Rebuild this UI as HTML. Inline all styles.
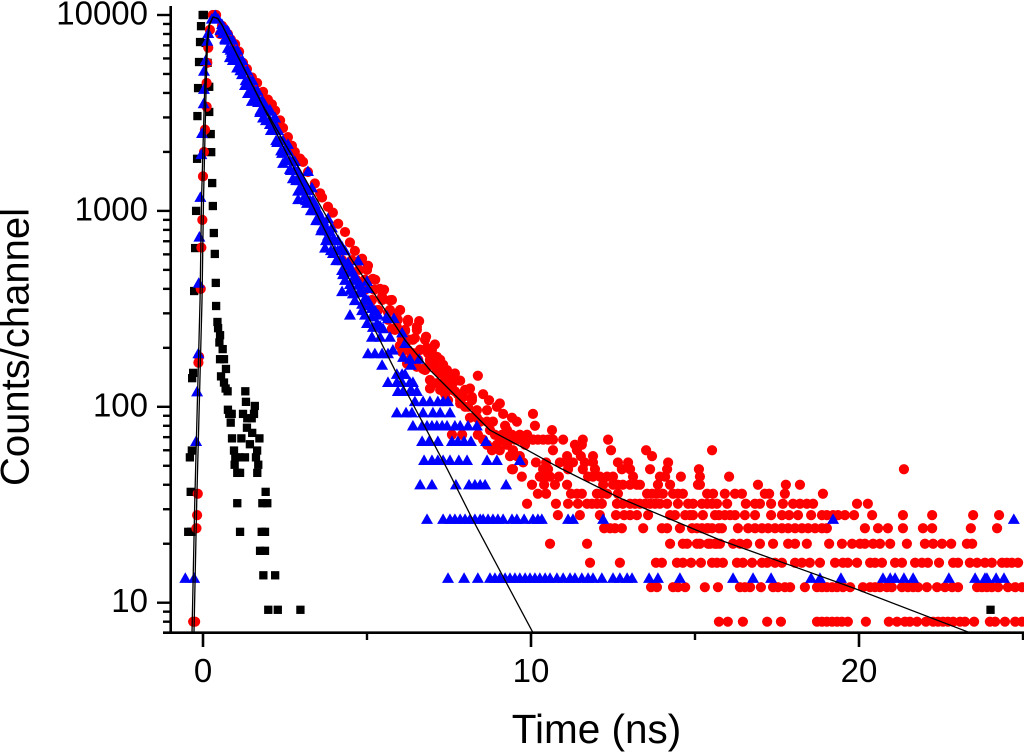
<!DOCTYPE html>
<html lang="en">
<head>
<meta charset="utf-8">
<title>Fluorescence decay: counts per channel vs time</title>
<style>
html,body{margin:0;padding:0;background:#fff;width:1024px;height:752px;overflow:hidden}
svg{display:block}
text{font-family:"Liberation Sans",Arial,sans-serif;fill:#000}
</style>
</head>
<body>
<svg id="chart" xmlns="http://www.w3.org/2000/svg" width="1024" height="752" viewBox="0 0 1024 752">
  <defs><clipPath id="plot-clip"><rect x="171" y="0" width="853" height="632.7"/></clipPath></defs>
  <g id="marks-black"></g>
  <g id="marks-red"></g>
  <g id="marks-blue"></g>
  <g id="fits" clip-path="url(#plot-clip)"></g>
  <g id="axes"></g>
  <text transform="translate(28.5 347) rotate(-90)" text-anchor="middle" font-size="40">Counts/channel</text>
  <text x="596.5" y="743" text-anchor="middle" font-size="40.5">Time (ns)</text>
</svg>
<script>
const xMajorTicks = [0, 10, 20];
const xMinorTicks = [5, 15, 25];
const xTickLabels = ["0", "10", "20"];
const yMajorTicks = [10, 100, 1000, 10000];
const yMinorTicks = [8,9,20,30,40,50,60,70,80,90,200,300,400,500,600,700,800,900,2000,3000,4000,5000,6000,7000,8000,9000];
const yTickLabels = ["10", "100", "1000", "10000"];

const fit1Times = [-0.335,-0.25,-0.17,-0.09,-0.045,0.015,0.06,0.107,0.18,0.305,0.45,0.58,2.04,4.02,5.85,7.46,8.23,10.06];
const fit1Counts = [7.03,33.4,108,351,1137,2588,4656,7014,8890,9770,9600,8890,2911,631,154,47.6,26.4,7.03];
const fit2Times = [-0.275,-0.19,-0.11,-0.03,0.015,0.065,0.1,0.135,0.2,0.305,0.45,0.58,1.8,2.65,4.12,4.48,6.16,6.92,7.84,8.75,9.88,10.88,12.71,15.76,17.38,19.82,23.38];
const fit2Counts = [7.03,33.4,108,351,1137,2588,4656,7014,8890,9770,9600,8890,3516,1995,736,582,219,154,108,76,60.2,48.7,34.2,20.9,16.7,11.9,7.03];

const blackPoints = [[-0.01,10000],[0.03,10000],[-0.06,8770],[-0.09,7278],[-0.12,5754],[-0.15,4236],[-0.17,3048],[-0.18,1845],[-0.21,1000],[-0.24,646],[-0.27,390],[-0.3,149],[-0.33,140],[-0.34,59.8],[-0.4,55.2],[-0.375,36.8],[-0.45,23],[-0.36,23],[0.08,7200],[0.14,5700],[0.19,4300],[0.19,3200],[0.235,2467],[0.25,1995],[0.28,1387],[0.3,1059],[0.33,771],[0.36,603],[0.39,429],[0.4,327],[0.44,271],[0.46,252],[0.52,232],[0.5,213],[0.6,197],[0.52,175],[0.64,175],[0.7,156],[0.55,143],[0.64,133],[0.69,124],[0.75,120],[1.29,120],[1.31,106],[1.58,101],[0.76,96.6],[0.8,92],[0.875,92],[0.845,83],[1.22,92],[1.35,87.4],[1.555,92],[1.485,87.4],[1.34,78.2],[1.5,73.6],[0.885,69],[1.17,69],[1.72,69],[1.43,64.4],[1.65,59.8],[0.945,59.8],[0.985,55.2],[1.28,55.2],[1.11,55.2],[1.615,55.2],[0.965,50.6],[1.685,50.6],[1.045,46],[1.13,46],[1.655,46],[1.91,36.8],[1.045,32.2],[1.81,32.2],[1.96,32.2],[1.13,23],[1.79,23],[1.89,23],[1.74,18.4],[1.89,18.4],[1.84,13.8],[2.2,13.8],[1.99,9.2],[2.28,9.2],[2.97,9.2],[24.01,9.2]];

const red8 = [-0.3,-0.24,15.73,16.0,16.46,17.2,17.62,18.72,18.87,19.02,19.18,19.33,19.48,19.66,20.21,20.91,21.16,21.4,21.55,21.77,22.04,22.26,22.41,22.56,22.71,22.87,23.08,23.23,23.51,23.99,24.15,24.45,24.76,24.97];
const red12 = [13.66,13.84,14.33,14.48,14.7,15.3,15.7,16.37,16.52,16.68,17.01,17.38,17.53,17.74,17.9,18.35,18.72,18.87,19.02,19.18,19.33,19.51,19.73,20.12,20.34,20.49,20.64,20.85,21.0,21.31,21.49,21.65,21.8,22.07,22.38,22.62,22.84,23.02,23.6,23.75,23.9,24.05,24.24,24.54,24.76,24.97];
const red16 = [11.8,12.71,13.81,13.99,14.45,14.63,14.88,15.18,15.52,15.67,15.85,16.28,16.46,16.74,17.04,17.2,17.44,17.65,18.05,18.26,18.5,18.81,19.27,19.51,19.66,19.94,20.34,20.49,20.7,21.1,21.31,21.71,21.92,22.1,22.44,22.87,23.02,23.38,23.6,23.84,24.05,24.36,24.51,24.66,24.85];
const red20 = [10.58,11.71,14.24,14.63,14.76,15.06,15.4,15.61,15.76,15.15,15.46,15.67,16.16,16.37,16.59,16.98,17.38,17.84,18.05,18.41,19.09,19.48,19.79,20.03,20.18,20.43,20.64,20.95,21.46,22.01,22.26,22.53,22.81,23.29,23.45];
const red24 = [12.23,12.41,12.56,12.77,13.42,13.99,14.15,14.54,14.91,15.06,15.21,15.37,15.52,15.73,15.4,15.82,16.31,16.62,16.83,17.04,17.23,17.44,17.65,17.84,18.05,18.26,18.45,18.66,18.87,19.02,20.18,20.58,20.88,21.34,21.95,22.23,23.41,24.21];
const red28 = [10.82,11.49,12.1,12.59,12.84,13.02,13.23,13.57,14.24,14.39,14.7,14.85,14.94,15.24,15.61,15.73,15.91,16.07,16.22,16.52,16.83,17.32,17.65,17.87,18.14,18.54,18.87,19.02,19.21,19.36,19.57,19.85,20.4,21.34,22.23,23.48,24.27];
const red32 = [9.88,10.76,11.13,11.43,11.71,11.86,12.01,12.16,12.62,12.8,13.02,13.17,13.32,13.48,13.63,13.78,13.93,14.15,14.48,14.79,14.94,15.21,15.37,15.52,15.67,15.98,16.55,16.83,16.98,17.32,17.68,17.99,18.2,18.41,18.6,19.94,20.27];
const red36 = [10.21,10.46,11.22,11.4,11.55,12.01,12.16,12.32,12.65,13.54,13.69,13.84,14.02,14.33,14.48,14.63,15.37,15.55,15.91,16.22,16.43,17.13,17.26,17.74,18.9];
const red40 = [10.03,10.4,10.73,11.1,12.2,12.5,12.65,12.8,13.02,13.23,13.32,13.87,14.24,15.09,15.15,16.92,17.77,18.2];
const red44 = [9.72,10.27,10.43,10.58,10.85,11.74,11.89,12.1,12.32,12.5,13.11,13.93,14.09,14.57,15.15,16.04];
const red48 = [9.42,10.37,10.52,11.13,11.58,11.95,12.77,13.02,13.63,14.15,15.12,21.37];
const red52 = [10.15,10.46,10.88,11.07,11.28,11.64,11.89,12.65,12.96,14.18];
const red56 = [11.1,11.52,11.89,13.69];
const red60 = [10.67,11.4,12.44,13.51,15.52];
const red64 = [11.34,11.55];
const red68 = [9.66,9.88,10.06,10.21,10.37,10.52,10.67,10.98,11.58,12.35];
const redLevels = [8,12,16,20,24,28,32,36,40,44,48,52,56,60,64,68];
const redRows = [red8,red12,red16,red20,red24,red28,red32,red36,red40,red44,red48,red52,red56,red60,red64,red68];

const redRise = [[-0.2,24],[-0.18,28],[-0.16,36],[-0.14,168],[-0.12,180],[-0.07,400],[-0.05,650],[-0.02,900],[0,1500],[0.03,2000],[0.06,2600],[0.11,3400],[0.11,4500],[0.13,5700],[0.16,6800],[0.21,8400],[0.3,10000]];
const redBand = [[0.4,10000],[0.52,8000],[0.58,8800],[0.67,8400],[0.76,8000],[0.85,7500],[0.98,7100],[1.1,6500],[1.22,5700],[1.34,5300],[1.49,4800],[1.65,4500],[1.83,4050],[1.98,3700],[2.1,3500],[2.2,3250],[2.35,2900],[2.44,2650],[2.59,2380],[2.71,2150],[2.8,2000],[2.96,1850],[3.05,1780],[3.2,1580],[3.41,1380],[3.57,1230],[3.63,1170],[3.81,1050],[3.96,980],[4.12,860],[4.33,780],[4.48,690],[4.63,625],[4.85,570],[5.03,525],[5.18,450],[5.4,400],[5.46,365],[5.7,350],[5.64,304],[5.91,300],[5.09,340],[5.91,256],[6.25,272],[6.59,274],[6.52,256],[6.16,244],[6.46,224],[6.8,228],[7.07,208],[6.83,200],[6.31,220],[6.62,196],[6.4,188],[6.92,172],[7.32,164],[7.13,180],[6.07,190],[5.76,250],[6.0,205],[6.34,178],[6.52,160],[6.83,158],[6.22,166]];
const redCloud = [[8.38,144],[7.68,148],[7.84,136],[7.62,132],[8.14,124],[7.77,116],[8.54,116],[8.72,108],[9.05,104],[8.96,100],[9.15,92],[9.42,88],[9.57,84],[10.06,92],[10.12,80],[9.21,80],[9.27,76],[10.64,76],[9.66,72],[9.88,72],[9.51,68],[10.06,68],[9.05,68],[8.84,84],[8.66,96],[8.35,96],[8.2,112],[7.99,100],[8.45,84],[8.66,84],[8.9,72],[9.27,64],[9.45,60],[9.66,56],[8.96,64],[8.81,60],[9.45,48],[9.57,56],[9.76,52],[9.36,56],[7.59,72],[7.9,72],[8.38,72],[8.54,68],[8.66,64],[9.12,72],[7.47,124],[7.32,132],[7.23,148],[7.01,164],[7.01,180],[6.86,188],[6.71,156],[6.92,124],[7.13,132],[7.32,156],[7.47,144],[7.68,120],[7.93,112],[7.84,104],[8.08,100],[8.35,88],[7.38,116],[8.14,88],[8.75,76],[9.05,60],[9.21,68],[9.82,64],[9.42,72]];
const redFill = [[4.24,561],[4.54,561],[4.79,561],[4.48,500],[4.76,500],[5.0,500],[4.67,445],[4.94,445],[5.25,445],[4.94,396],[5.22,396],[5.52,396],[5.15,351],[5.46,351],[5.76,351],[5.34,312],[5.7,312],[6.01,312],[5.64,278],[5.94,278],[6.25,278],[5.85,247],[6.16,247],[6.52,247],[6.07,220],[6.4,220],[6.77,220],[6.25,195],[6.62,195],[6.98,195],[6.56,174],[6.92,174],[7.23,174],[6.77,154],[7.13,154],[7.44,154],[6.92,137],[7.38,137],[7.68,137],[7.23,122],[7.59,122],[7.99,122],[7.47,108],[7.84,108],[8.2,108]];

const blue13 = [-0.54,-0.27,7.47,7.96,8.38,8.75,8.9,9.05,9.21,9.36,9.51,9.66,9.82,9.97,10.12,10.27,10.43,10.58,10.79,10.98,11.19,11.34,11.55,11.74,11.89,12.16,12.5,12.71,12.93,13.08,13.6,13.87,14.54,16.16,16.77,17.32,18.54,18.81,19.45,20.73,20.95,21.1,21.37,21.65,22.74,23.54,23.84,23.9,24.18,24.42];
const blue27 = [6.83,7.32,7.53,7.68,7.84,7.99,8.14,8.29,8.45,8.54,8.69,8.84,8.99,9.15,9.42,9.57,9.79,10.06,10.21,10.33,11.13,11.28,12.2,19.21,24.72];
const blue40 = [6.62,6.98,7.71,8.11,8.29,8.45,8.6,9.24];
const blue54 = [6.74,6.98,7.16,7.32,7.53,7.8,8.05,8.66,8.96,9.66];
const blue67 = [6.68,6.89,7.16,7.59,7.77,7.96,8.17,8.63];
const blue80 = [6.4,6.68,6.83,6.98,7.13,7.29,7.44,7.68,7.84,8.08,8.35];
const blue94 = [5.91,6.19,6.37,6.71,7.01,7.23,7.53];
const blue107 = [6.46,6.71,6.92,7.16,7.32,7.47];
const blue121 = [5.94,6.1,6.31,6.37,6.52];
const blue134 = [5.64,5.91,6.07,6.31,6.4];
const blue147 = [5.91,6.07,6.16];
const blueLevels = [13.4,26.8,40.2,53.6,67,80.4,93.8,107,120.6,134,147.4];
const blueRows = [blue13,blue27,blue40,blue54,blue67,blue80,blue94,blue107,blue121,blue134,blue147];

const blueRise = [[-0.21,67],[-0.18,120],[-0.14,188],[-0.13,430],[-0.11,740],[-0.08,1180],[-0.05,1950],[-0.03,2500],[0.02,3550],[0.03,4200],[0.03,5200],[0.08,5900],[0.13,7400],[0.16,8100]];
const blueBand = [[0.27,9600],[0.37,10000],[0.46,9600],[0.58,9000],[0.61,8100],[0.67,7600],[0.76,6800],[0.82,6100],[0.88,6500],[0.91,5900],[1.04,6200],[1.04,5400],[1.13,5700],[1.19,5000],[1.28,4400],[1.37,4000],[1.43,4400],[1.49,3650],[1.59,4000],[1.68,3600],[1.74,3200],[1.83,3000],[1.89,3500],[1.95,3250],[2.04,3300],[2.04,2780],[2.13,2850],[2.2,3000],[2.26,2250],[2.29,2600],[2.41,1980],[2.44,1760],[2.5,2050],[2.59,2200],[2.65,1640],[2.74,1470],[2.8,1800],[2.9,1270],[2.9,1150],[2.96,1500],[3.05,1400],[3.11,1200],[3.17,1100],[3.2,1600],[3.32,1320],[3.32,1010],[3.41,1090],[3.48,920],[3.57,950],[3.63,825],[3.72,850],[3.72,650],[3.81,920],[3.81,750],[3.87,790],[3.93,825],[3.96,610],[4.02,710],[4.02,630],[4.12,710],[4.18,564],[4.24,660],[4.24,390],[4.27,476],[4.33,630],[4.33,530],[4.42,548],[4.48,490],[4.48,424],[4.48,296],[4.54,500],[4.57,380],[4.63,470],[4.73,560],[4.73,420],[4.79,424],[4.85,385],[4.85,336],[4.94,360],[4.94,296],[5,440],[5,268],[5.03,404],[5.03,188],[5.09,330],[5.15,320],[5.15,290],[5.15,228],[5.18,256],[5.24,188],[5.31,268],[5.34,296],[5.4,260],[5.4,228],[5.46,188],[5.46,164],[5.49,252],[5.61,292],[5.64,284],[5.64,188],[5.7,228],[5.79,196],[5.82,284],[6.07,240],[6.1,180],[6.16,212],[6.31,176],[6.34,164],[6.59,176]];
const blueBandLeft = [[0.53,8400],[0.69,7500],[0.84,6650],[0.99,5900],[1.14,5230],[1.3,4660],[1.45,4130],[1.6,3680],[1.75,3270],[1.92,2910],[2.07,2590],[2.23,2300],[2.38,2040],[2.53,1820],[2.68,1618],[2.84,1437],[2.99,1278],[3.14,1136],[3.29,1010],[3.45,898],[3.6,798],[3.75,710],[3.9,631],[4.06,561]];
const blueBandMid = [[0.65,8400],[0.81,7500],[0.96,6650],[1.11,5900],[1.26,5230],[1.42,4660],[1.57,4130],[1.72,3680],[1.87,3270],[2.04,2910],[2.19,2590],[2.35,2300],[2.5,2040],[2.65,1820],[2.8,1618],[2.96,1437],[3.11,1278],[3.26,1136],[3.41,1010],[3.57,898],[3.72,798],[3.87,710],[4.02,631],[4.18,561]];
const blueBandRight = [[0.74,8400],[0.9,7500],[1.05,6650],[1.2,5900],[1.35,5230],[1.51,4660],[1.66,4130],[1.81,3680],[1.96,3270],[2.13,2910],[2.28,2590],[2.44,2300],[2.59,2040],[2.74,1820],[2.89,1618],[3.05,1437],[3.2,1278],[3.35,1136],[3.5,1010],[3.66,898],[3.81,798],[3.96,710],[4.11,631],[4.27,561]];
const blueFill = [[4.24,500],[4.48,500],[4.33,445],[4.63,445],[4.48,396],[4.79,396],[4.63,351],[5.03,351],[4.85,312],[5.24,312]];

const NS = "http://www.w3.org/2000/svg";
function xScale(t) { return 203 + 32.8 * t; }
function yScale(c) { return 602.7 - 195.9 * (Math.log10(c) - 1); }

const axes = document.getElementById("axes");
function axisLine(x1, y1, x2, y2, w, name) {
  const l = document.createElementNS(NS, "line");
  l.setAttribute("x1", x1); l.setAttribute("y1", y1);
  l.setAttribute("x2", x2); l.setAttribute("y2", y2);
  l.setAttribute("stroke", "#000"); l.setAttribute("stroke-width", w);
  
  
  axes.appendChild(l);
}
function axisText(x, y, anchor, str, name) {
  const t = document.createElementNS(NS, "text");
  t.setAttribute("x", x); t.setAttribute("y", y);
  t.setAttribute("text-anchor", anchor); t.setAttribute("font-size", "33");
  t.textContent = str;
  
  
  axes.appendChild(t);
}
axisLine(170.7, 6, 170.7, 634, 2.6, "y-axis-line");
axisLine(163, 632.7, 1024, 632.7, 2.6, "x-axis-line");
xMajorTicks.forEach(function (v, i) {
  axisLine(xScale(v), 632.7, xScale(v), 647, 2.6, "x-major-tick");
  axisText(xScale(v), 682, "middle", xTickLabels[i], "x-tick-label");
});
xMinorTicks.forEach(function (v) {
  axisLine(Math.min(xScale(v), 1023), 632.7, Math.min(xScale(v), 1023), 640, 2.4, "x-minor-tick");
});
yMajorTicks.forEach(function (v, i) {
  axisLine(157, yScale(v), 171, yScale(v), 2.4, "y-major-tick");
  axisText(148, yScale(v) + 9.5, "end", yTickLabels[i], "y-tick-label");
});
yMinorTicks.forEach(function (v) {
  axisLine(163, yScale(v), 171, yScale(v), 2.4, "y-minor-tick");
});

const gBlack = document.getElementById("marks-black");
const gRed = document.getElementById("marks-red");
const gBlue = document.getElementById("marks-blue");
const gFits = document.getElementById("fits");

function drawBlack(t, c) {
  const s = 8.3, m = document.createElementNS(NS, "rect");
  m.setAttribute("x", xScale(t) - s / 2); m.setAttribute("y", yScale(c) - s / 2);
  m.setAttribute("width", s); m.setAttribute("height", s); m.setAttribute("fill", "#000");
  
  
  gBlack.appendChild(m);
}
function drawRed(t, c) {
  const m = document.createElementNS(NS, "circle");
  m.setAttribute("cx", xScale(t)); m.setAttribute("cy", yScale(c));
  m.setAttribute("r", 5.1); m.setAttribute("fill", "#fe0000");
  
  
  gRed.appendChild(m);
}
function drawBlue(t, c) {
  const x = xScale(t), y = yScale(c), m = document.createElementNS(NS, "polygon");
  m.setAttribute("points", (x - 6) + "," + (y + 5.1) + " " + (x + 6) + "," + (y + 5.1) + " " + x + "," + (y - 5.5));
  m.setAttribute("fill", "#0000fe");
  
  
  gBlue.appendChild(m);
}
function drawFit(times, counts, name) {
  const p = document.createElementNS(NS, "polyline");
  p.setAttribute("points", times.map(function (t, i) { return xScale(t) + "," + yScale(counts[i]); }).join(" "));
  p.setAttribute("fill", "none"); p.setAttribute("stroke", "#000");
  p.setAttribute("stroke-width", "1.3"); p.setAttribute("stroke-linejoin", "round");
  
  
  gFits.appendChild(p);
}

blackPoints.forEach(function (p) { drawBlack(p[0], p[1]); });
redRows.forEach(function (row, i) { row.forEach(function (t) { drawRed(t, redLevels[i]); }); });
redRise.forEach(function (p) { drawRed(p[0], p[1]); });
redBand.forEach(function (p) { drawRed(p[0], p[1]); });
redCloud.forEach(function (p) { drawRed(p[0], p[1]); });
redFill.forEach(function (p) { drawRed(p[0], p[1]); });
blueRows.forEach(function (row, i) { row.forEach(function (t) { drawBlue(t, blueLevels[i]); }); });
blueRise.forEach(function (p) { drawBlue(p[0], p[1]); });
blueBand.forEach(function (p) { drawBlue(p[0], p[1]); });
blueBandLeft.forEach(function (p) { drawBlue(p[0], p[1]); });
blueBandMid.forEach(function (p) { drawBlue(p[0], p[1]); });
blueBandRight.forEach(function (p) { drawBlue(p[0], p[1]); });
blueFill.forEach(function (p) { drawBlue(p[0], p[1]); });
drawFit(fit1Times, fit1Counts, "fit-curve-blue");
drawFit(fit2Times, fit2Counts, "fit-curve-red");
</script>
</body>
</html>
